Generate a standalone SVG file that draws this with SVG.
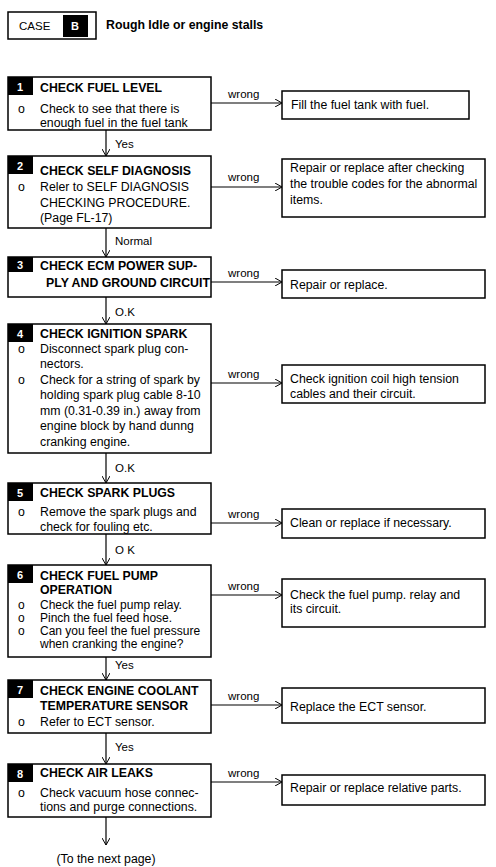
<svg xmlns="http://www.w3.org/2000/svg" width="496" height="867" viewBox="0 0 496 867">
<defs>
<marker id="arr" markerWidth="8" markerHeight="8" refX="7" refY="4" orient="auto" markerUnits="userSpaceOnUse">
<path d="M0,0 L7,4 L0,8" fill="none" stroke="#000" stroke-width="1"/>
</marker>
<style>
text{font-family:"Liberation Sans",Arial,sans-serif;fill:#000}
.box{fill:#fff;stroke:#000;stroke-width:1.5}
.badge{fill:#000}
.num{font-size:11px;font-weight:bold;fill:#fff}
.ttl{font-size:12.3px;font-weight:bold}
.txt{font-size:12.3px}
.sm{font-size:12px}
.lbl{font-size:11.5px}
.con{stroke:#000;stroke-width:1.2;fill:none;marker-end:url(#arr)}
</style>
</defs>
<rect width="496" height="867" fill="#fff"/>

<g id="header">
<rect class="box" x="8" y="12" width="88" height="27"/>
<text x="19" y="30" style="font-size:11.5px">CASE</text>
<rect class="badge" x="63" y="15" width="25" height="22"/>
<text class="num" x="71" y="30">B</text>
<text x="106" y="29" style="font-size:12.3px;font-weight:bold">Rough Idle or engine stalls</text>
</g>

<g id="connectors">
<line class="con" x1="106" y1="130" x2="106" y2="156"/>
<line class="con" x1="106" y1="228" x2="106" y2="257"/>
<line class="con" x1="106" y1="297" x2="106" y2="324"/>
<line class="con" x1="106" y1="453" x2="106" y2="483"/>
<line class="con" x1="106" y1="534" x2="106" y2="565"/>
<line class="con" x1="106" y1="657" x2="106" y2="680"/>
<line class="con" x1="106" y1="733" x2="106" y2="764"/>
<line class="con" x1="106" y1="817" x2="106" y2="845"/>
<line class="con" x1="211" y1="103" x2="282" y2="103"/>
<line class="con" x1="211" y1="187" x2="282" y2="187"/>
<line class="con" x1="211" y1="282" x2="282" y2="282"/>
<line class="con" x1="211" y1="383" x2="282" y2="383"/>
<line class="con" x1="211" y1="523" x2="282" y2="523"/>
<line class="con" x1="211" y1="595" x2="282" y2="595"/>
<line class="con" x1="211" y1="705" x2="282" y2="705"/>
<line class="con" x1="211" y1="782" x2="282" y2="782"/>
<text class="lbl" x="115" y="148">Yes</text>
<text class="lbl" x="115" y="245">Normal</text>
<text class="lbl" x="115" y="316">O.K</text>
<text class="lbl" x="115" y="472">O.K</text>
<text class="lbl" x="115" y="554">O K</text>
<text class="lbl" x="115" y="669">Yes</text>
<text class="lbl" x="115" y="751">Yes</text>
<text class="lbl" x="228" y="98">wrong</text>
<text class="lbl" x="228" y="181">wrong</text>
<text class="lbl" x="228" y="277">wrong</text>
<text class="lbl" x="228" y="378">wrong</text>
<text class="lbl" x="228" y="518">wrong</text>
<text class="lbl" x="228" y="590">wrong</text>
<text class="lbl" x="228" y="700">wrong</text>
<text class="lbl" x="228" y="777">wrong</text>
<text class="txt" x="106" y="863" text-anchor="middle">(To the next page)</text>
</g>

<g id="step1">
<rect class="box" x="8" y="77" width="203" height="53"/>
<rect class="badge" x="8" y="77" width="25" height="18"/>
<text class="num" x="17" y="91">1</text>
<text class="ttl" x="40" y="92">CHECK FUEL LEVEL</text>
<text class="txt" x="18" y="113">o</text>
<text class="txt" x="40" y="113">Check to see that there is</text>
<text class="txt" x="40" y="127">enough fuel in the fuel tank</text>
</g>
<g id="fix1">
<rect class="box" x="282" y="91" width="187" height="28"/>
<text class="txt" x="291" y="109">Fill the fuel tank with fuel.</text>
</g>

<g id="step2">
<rect class="box" x="8" y="156" width="203" height="72"/>
<rect class="badge" x="8" y="156" width="25" height="18"/>
<text class="num" x="17" y="170">2</text>
<text class="ttl" x="40" y="175">CHECK SELF DIAGNOSIS</text>
<text class="txt" x="18" y="191">o</text>
<text class="txt" x="40" y="191">Reler to SELF DIAGNOSIS</text>
<text class="txt" x="40" y="207">CHECKING PROCEDURE.</text>
<text class="txt" x="40" y="222">(Page FL-17)</text>
</g>
<g id="fix2">
<rect class="box" x="282" y="159" width="203" height="58"/>
<text class="txt" x="290" y="172">Repair or replace after checking</text>
<text class="txt" x="290" y="188">the trouble codes for the abnormal</text>
<text class="txt" x="290" y="204">items.</text>
</g>

<g id="step3">
<rect class="box" x="8" y="257" width="203" height="40"/>
<rect class="badge" x="8" y="257" width="25" height="15"/>
<text class="num" x="17" y="269">3</text>
<text class="ttl" x="40" y="270">CHECK ECM POWER SUP-</text>
<text class="ttl" x="46" y="287" textLength="164" lengthAdjust="spacingAndGlyphs">PLY AND GROUND CIRCUIT</text>
</g>
<g id="fix3">
<rect class="box" x="282" y="270" width="203" height="28"/>
<text class="txt" x="290" y="289">Repair or replace.</text>
</g>

<g id="step4">
<rect class="box" x="8" y="324" width="203" height="129"/>
<rect class="badge" x="8" y="324" width="25" height="18"/>
<text class="num" x="17" y="338">4</text>
<text class="ttl" x="40" y="338">CHECK IGNITION SPARK</text>
<text class="txt" x="18" y="353">o</text>
<text class="txt" x="40" y="353">Disconnect spark plug con-</text>
<text class="txt" x="40" y="368">nectors.</text>
<text class="txt" x="18" y="384">o</text>
<text class="txt" x="40" y="384">Check for a string of spark by</text>
<text class="txt" x="40" y="399">holding spark plug cable 8-10</text>
<text class="txt" x="40" y="415">mm (0.31-0.39 in.) away from</text>
<text class="txt" x="40" y="430">engine block by hand dunng</text>
<text class="txt" x="40" y="446">cranking engine.</text>
</g>
<g id="fix4">
<rect class="box" x="282" y="365" width="203" height="38"/>
<text class="txt" x="290" y="383">Check ignition coil high tension</text>
<text class="txt" x="290" y="398">cables and their circuit.</text>
</g>

<g id="step5">
<rect class="box" x="8" y="483" width="203" height="51"/>
<rect class="badge" x="8" y="483" width="25" height="18"/>
<text class="num" x="17" y="497">5</text>
<text class="ttl" x="40" y="497">CHECK SPARK PLUGS</text>
<text class="txt" x="18" y="516">o</text>
<text class="txt" x="40" y="516">Remove the spark plugs and</text>
<text class="txt" x="40" y="531">check for fouling etc.</text>
</g>
<g id="fix5">
<rect class="box" x="282" y="509" width="203" height="29"/>
<text class="txt" x="290" y="527">Clean or replace if necessary.</text>
</g>

<g id="step6">
<rect class="box" x="8" y="565" width="203" height="92"/>
<rect class="badge" x="8" y="565" width="25" height="18"/>
<text class="num" x="17" y="579">6</text>
<text class="ttl" x="40" y="580">CHECK FUEL PUMP</text>
<text class="ttl" x="40" y="594">OPERATION</text>
<text class="sm" x="18" y="609">o</text>
<text class="sm" x="40" y="609">Check the fuel pump relay.</text>
<text class="sm" x="18" y="622">o</text>
<text class="sm" x="40" y="622">Pinch the fuel feed hose.</text>
<text class="sm" x="18" y="635">o</text>
<text class="sm" x="40" y="635">Can you feel the fuel pressure</text>
<text class="sm" x="40" y="648">when cranking the engine?</text>
</g>
<g id="fix6">
<rect class="box" x="282" y="579" width="203" height="48"/>
<text class="txt" x="290" y="599">Check the fuel pump. relay and</text>
<text class="txt" x="290" y="613">its circuit.</text>
</g>

<g id="step7">
<rect class="box" x="8" y="680" width="203" height="53"/>
<rect class="badge" x="8" y="680" width="25" height="18"/>
<text class="num" x="17" y="694">7</text>
<text class="ttl" x="40" y="695">CHECK ENGINE COOLANT</text>
<text class="ttl" x="40" y="710">TEMPERATURE SENSOR</text>
<text class="txt" x="18" y="726">o</text>
<text class="txt" x="40" y="726">Refer to ECT sensor.</text>
</g>
<g id="fix7">
<rect class="box" x="282" y="688" width="203" height="35"/>
<text class="txt" x="290" y="711">Replace the ECT sensor.</text>
</g>

<g id="step8">
<rect class="box" x="8" y="764" width="203" height="53"/>
<rect class="badge" x="8" y="764" width="25" height="18"/>
<text class="num" x="17" y="778">8</text>
<text class="ttl" x="40" y="777">CHECK AIR LEAKS</text>
<text class="txt" x="18" y="797">o</text>
<text class="txt" x="40" y="797">Check vacuum hose connec-</text>
<text class="txt" x="40" y="811">tions and purge connections.</text>
</g>
<g id="fix8">
<rect class="box" x="282" y="775" width="203" height="30"/>
<text class="txt" x="290" y="792">Repair or replace relative parts.</text>
</g>
</svg>
